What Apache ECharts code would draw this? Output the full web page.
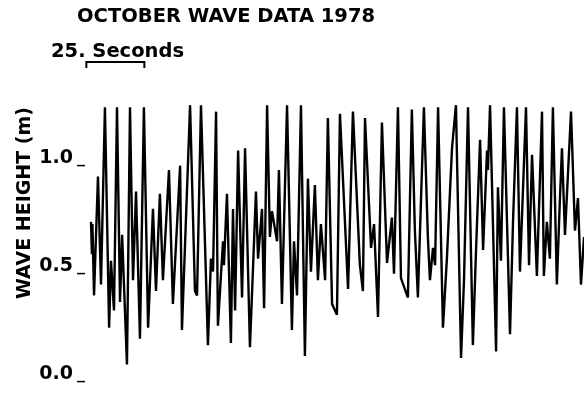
<!DOCTYPE html>
<html>
<head>
<meta charset="utf-8">
<script src="https://cdn.jsdelivr.net/npm/echarts@6/dist/echarts.min.js"></script>
<style>html,body{margin:0;padding:0;background:#fff}#c{width:584px;height:408px}</style>
</head>
<body>
<div id="c"></div>
<script>
// Time (seconds) of each traced turning point of the record
const times = [1.3,1.7,1.9,2.6,4.3,5.6,7.3,9.1,9.9,11.2,12.5,13.8,14.7,16.8,18.1,19.4,20.7,22.4,24.1,25.9,28.0,29.3,31.0,32.3,34.9,36.6,39.7,40.5,
  44.0,46.1,47.0,48.7,51.7,53.0,53.9,55.2,56.0,58.2,58.6,59.9,61.6,62.5,63.4,64.7,66.4,67.7,69.8,72.4,73.3,75.0,75.9,77.2,78.4,79.3,81.5,82.3,83.6,
  85.8,87.9,88.8,90.1,91.8,93.5,94.8,96.1,97.8,99.1,100.4,102.2,103.4,105.2,107.3,108.6,112.1,114.2,117.2,118.5,119.4,122.0,123.3,125.0,126.7,
  128.9,131.0,131.9,133.6,134.9,137.9,139.6,140.9,142.2,144.8,146.5,147.4,148.7,149.6,150.9,153.0,154.7,156.9,158.6,160.8,162.1,163.8,165.9,167.2,169.0,170.3,172.0,172.4,173.3,
  175.9,176.7,178.0,179.3,181.9,183.2,184.9,186.2,188.8,190.1,191.4,193.5,195.7,196.5,197.8,199.1,200.4,202.1,203.4,204.3,205.6,208.2,209.9,211.2,212.5,213.8];
// Wave height (m) at each turning point
const heights = [0.75,0.60,0.74,0.41,0.96,0.46,1.28,0.26,0.57,0.34,1.28,0.38,0.69,0.09,1.28,0.48,0.89,0.21,1.28,0.26,0.81,0.43,0.88,0.48,0.99,0.37,1.01,0.25,
  1.29,0.43,0.41,1.29,0.18,0.58,0.52,1.26,0.27,0.66,0.55,0.88,0.19,0.81,0.34,1.08,0.40,1.09,0.17,0.89,0.58,0.81,0.35,1.29,0.68,0.80,0.66,0.99,0.37,
  1.29,0.25,0.66,0.41,1.29,0.13,0.95,0.52,0.92,0.48,0.74,0.48,1.23,0.37,0.32,1.25,0.44,1.26,0.55,0.43,1.23,0.63,0.74,0.31,1.21,
  0.56,0.77,0.51,1.28,0.49,0.40,1.27,0.71,0.40,1.28,0.68,0.48,0.63,0.55,1.28,0.26,0.58,1.09,1.29,0.12,0.49,1.28,0.18,0.60,1.13,0.62,1.08,0.99,1.29,
  0.15,0.91,0.57,1.28,0.23,0.75,1.28,0.52,1.28,0.55,1.06,0.50,1.26,0.50,0.75,0.58,1.28,0.46,0.85,1.09,0.69,1.26,0.71,0.86,0.46,0.68];
const yTicks = [0, 0.5, 1.0];
const scaleBarSeconds = 25;
const scaleBarStart = -0.7;

const chart = echarts.init(document.getElementById('c'), null, {renderer: 'canvas'});
const FONT = '"DejaVu Sans"';
const option = {
  animation: false,
  backgroundColor: '#fff',
  title: [
    {text: 'OCTOBER WAVE DATA 1978', left: 77, top: 7, padding: 0,
     textStyle: {fontFamily: FONT, fontWeight: 'bold', fontSize: 19.5, color: '#000'}},
    {text: '25. Seconds', left: 51, top: 42, padding: 0,
     textStyle: {fontFamily: FONT, fontWeight: 'bold', fontSize: 19.5, color: '#000'}}
  ],
  grid: {left: 88, right: 0, top: 103, bottom: 24},
  xAxis: {type: 'value', min: 0, max: 213.8, show: false},
  yAxis: {
    type: 'value', min: 0, max: 1.3, interval: 0.5,
    splitLine: {show: false}, axisLine: {show: false}, axisTick: {show: false},
    axisLabel: {
      showMaxLabel: false, margin: 3, verticalAlign: 'bottom',
      formatter: v => yTicks.indexOf(v) >= 0 ? '{n|' + v.toFixed(1) + '}{u|_}' : '',
      rich: {
        n: {fontFamily: FONT, fontWeight: 'bold', fontSize: 19, color: '#000'},
        u: {fontFamily: FONT, fontWeight: 'bold', fontSize: 16, color: '#000', padding: [0, 0, 0, 4]}
      }
    }
  },
  series: [{
    type: 'line', symbol: 'none', clip: true,
    lineStyle: {color: '#000', width: 2.4},
    data: times.map((t, i) => [t, heights[i]])
  }]
};
chart.setOption(option);
const x0 = chart.convertToPixel({xAxisIndex: 0}, scaleBarStart);
const x1 = chart.convertToPixel({xAxisIndex: 0}, scaleBarStart + scaleBarSeconds);
chart.setOption({graphic: [
  {type: 'text', x: 25, y: 203, rotation: Math.PI / 2,
   style: {text: 'WAVE HEIGHT (m)', fontFamily: FONT, fontWeight: 'bold', fontSize: 19, fill: '#000', align: 'center', verticalAlign: 'middle'}},
  {type: 'polyline', shape: {points: [[x0, 68], [x0, 62], [x1, 62], [x1, 68]]},
   style: {stroke: '#000', lineWidth: 2, fill: null}}
]});
</script>
</body>
</html>
